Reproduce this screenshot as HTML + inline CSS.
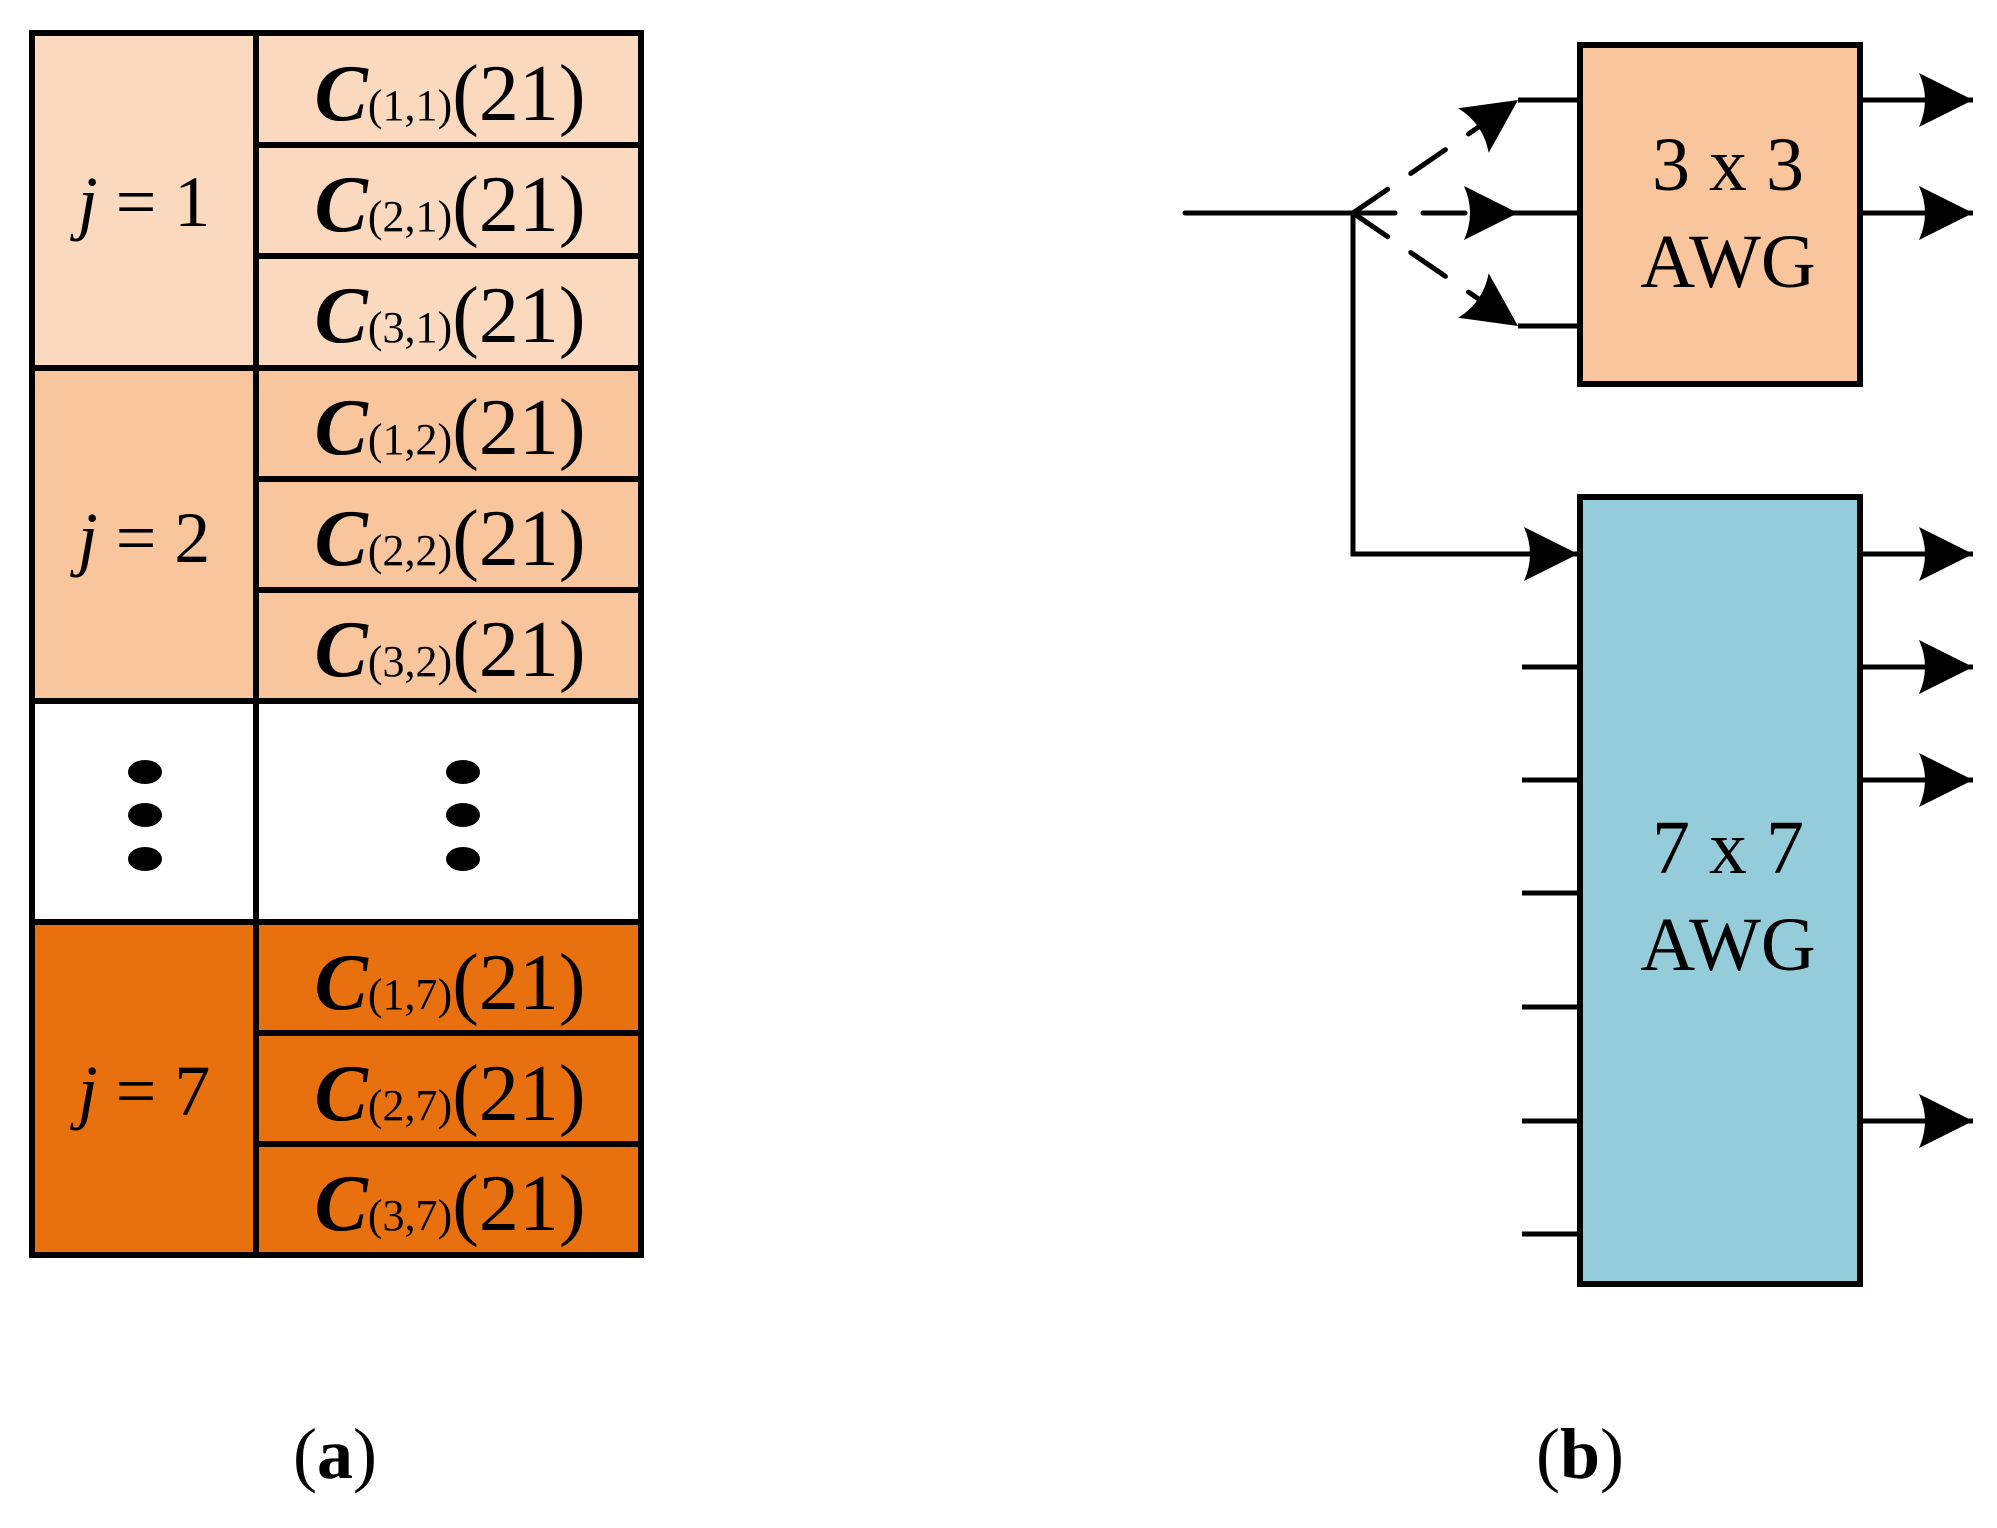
<!DOCTYPE html>
<html><head><meta charset="utf-8"><style>
html,body{margin:0;padding:0;background:#fff;}
svg{display:block;}
text{font-family:"Liberation Serif",serif;}
</style></head><body>
<svg width="1997" height="1528" viewBox="0 0 1997 1528" xmlns="http://www.w3.org/2000/svg">
<defs>
<marker id="ah" markerUnits="userSpaceOnUse" markerWidth="60" markerHeight="60" refX="54" refY="27" orient="auto">
<path d="M54,27 L0,0 Q12,27 0,54 Z" fill="#000"/>
</marker>
</defs>
<rect x="32" y="33" width="609" height="335" fill="#FAD9BF"/>
<rect x="32" y="368" width="609" height="333" fill="#F8C59D"/>
<rect x="32" y="701" width="609" height="221" fill="#fff"/>
<rect x="32" y="922" width="609" height="333" fill="#E8700F"/>
<g stroke="#000" stroke-width="6" fill="none">
<rect x="32" y="33" width="609" height="1222"/>
<line x1="256" y1="33" x2="256" y2="1255"/>
<line x1="32" y1="368" x2="641" y2="368"/>
<line x1="32" y1="701" x2="641" y2="701"/>
<line x1="32" y1="922" x2="641" y2="922"/>
<line x1="256" y1="145" x2="641" y2="145"/>
<line x1="256" y1="256" x2="641" y2="256"/>
<line x1="256" y1="479" x2="641" y2="479"/>
<line x1="256" y1="590" x2="641" y2="590"/>
<line x1="256" y1="1033" x2="641" y2="1033"/>
<line x1="256" y1="1144" x2="641" y2="1144"/>
</g>
<g fill="#000">
<ellipse cx="145" cy="772" rx="17" ry="12"/><ellipse cx="145" cy="815" rx="17" ry="12"/><ellipse cx="145" cy="859" rx="17" ry="12"/>
<ellipse cx="463" cy="772" rx="17" ry="12"/><ellipse cx="463" cy="815" rx="17" ry="12"/><ellipse cx="463" cy="859" rx="17" ry="12"/>
</g>
<g font-size="72" text-anchor="middle">
<text x="144" y="226"><tspan font-style="italic">j</tspan> = 1</text>
<text x="144" y="562"><tspan font-style="italic">j</tspan> = 2</text>
<text x="144" y="1115"><tspan font-style="italic">j</tspan> = 7</text>
</g>
<g font-size="80" text-anchor="middle">
<text x="450" y="120"><tspan font-style="italic" font-weight="bold">C</tspan><tspan font-size="44">(1,1)</tspan>(21)</text>
<text x="450" y="231"><tspan font-style="italic" font-weight="bold">C</tspan><tspan font-size="44">(2,1)</tspan>(21)</text>
<text x="450" y="342"><tspan font-style="italic" font-weight="bold">C</tspan><tspan font-size="44">(3,1)</tspan>(21)</text>
<text x="450" y="454"><tspan font-style="italic" font-weight="bold">C</tspan><tspan font-size="44">(1,2)</tspan>(21)</text>
<text x="450" y="565"><tspan font-style="italic" font-weight="bold">C</tspan><tspan font-size="44">(2,2)</tspan>(21)</text>
<text x="450" y="676"><tspan font-style="italic" font-weight="bold">C</tspan><tspan font-size="44">(3,2)</tspan>(21)</text>
<text x="450" y="1009"><tspan font-style="italic" font-weight="bold">C</tspan><tspan font-size="44">(1,7)</tspan>(21)</text>
<text x="450" y="1120"><tspan font-style="italic" font-weight="bold">C</tspan><tspan font-size="44">(2,7)</tspan>(21)</text>
<text x="450" y="1230"><tspan font-style="italic" font-weight="bold">C</tspan><tspan font-size="44">(3,7)</tspan>(21)</text>
</g>
<rect x="1580" y="45" width="280" height="339" fill="#F8C59D" stroke="#000" stroke-width="6"/>
<rect x="1580" y="497" width="280" height="787" fill="#94CCDA" stroke="#000" stroke-width="6"/>
<g font-size="76" text-anchor="middle">
<text x="1728" y="190">3 x 3</text>
<text x="1728" y="287">AWG</text>
<text x="1728" y="873">7 x 7</text>
<text x="1728" y="970">AWG</text>
</g>
<g stroke="#000" stroke-width="5" fill="none" stroke-linecap="round">
<line x1="1185" y1="213" x2="1353" y2="213"/>
<polyline points="1353,213 1353,554 1578,554" marker-end="url(#ah)"/>
<line x1="1353" y1="213" x2="1518" y2="100" stroke-dasharray="42,28" marker-end="url(#ah)"/>
<line x1="1353" y1="213" x2="1518" y2="213" stroke-dasharray="42,28" marker-end="url(#ah)"/>
<line x1="1353" y1="213" x2="1518" y2="326" stroke-dasharray="42,28" marker-end="url(#ah)"/>
</g>
<g stroke="#000" stroke-width="5" fill="none">
<line x1="1518" y1="100" x2="1580" y2="100"/>
<line x1="1518" y1="213" x2="1580" y2="213"/>
<line x1="1518" y1="326" x2="1580" y2="326"/>
<line x1="1522" y1="667" x2="1580" y2="667"/>
<line x1="1522" y1="780" x2="1580" y2="780"/>
<line x1="1522" y1="893" x2="1580" y2="893"/>
<line x1="1522" y1="1007" x2="1580" y2="1007"/>
<line x1="1522" y1="1121" x2="1580" y2="1121"/>
<line x1="1522" y1="1234" x2="1580" y2="1234"/>
<line x1="1860" y1="100" x2="1973" y2="100" marker-end="url(#ah)"/>
<line x1="1860" y1="213" x2="1973" y2="213" marker-end="url(#ah)"/>
<line x1="1860" y1="554" x2="1973" y2="554" marker-end="url(#ah)"/>
<line x1="1860" y1="667" x2="1973" y2="667" marker-end="url(#ah)"/>
<line x1="1860" y1="780" x2="1973" y2="780" marker-end="url(#ah)"/>
<line x1="1860" y1="1121" x2="1973" y2="1121" marker-end="url(#ah)"/>
</g>
<g font-size="72" text-anchor="middle">
<text x="335" y="1478">(<tspan font-weight="bold">a</tspan>)</text>
<text x="1580" y="1478">(<tspan font-weight="bold">b</tspan>)</text>
</g>
</svg>
</body></html>
